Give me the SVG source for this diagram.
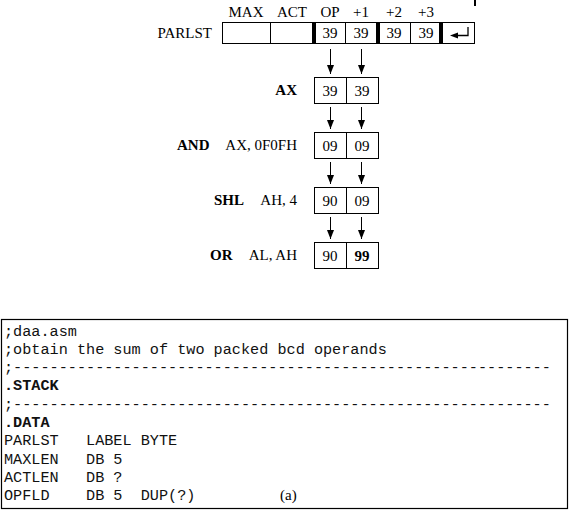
<svg xmlns="http://www.w3.org/2000/svg" width="570" height="511" viewBox="0 0 570 511">
<style>
.lbl{font-family:"Liberation Serif","Times New Roman",serif;font-size:15px;fill:#000}
.b{font-weight:bold}
.num{font-family:"Liberation Serif","Times New Roman",serif;font-size:15px;fill:#000;text-anchor:middle}
.cell{fill:#fff;stroke:#000;stroke-width:1}
.thick{fill:#000}
.arr{stroke:#000;stroke-width:1;fill:none;marker-end:url(#ah)}
.code{font-family:"Liberation Mono","Courier New",monospace;font-size:15.2px;fill:#111;white-space:pre}
</style>
<defs>
<marker id="ah" markerUnits="userSpaceOnUse" markerWidth="10" markerHeight="8" refX="9" refY="3.5" orient="auto">
<path d="M0,0 L9,3.5 L0,7 z" fill="#000"/>
</marker>
</defs>
<rect width="570" height="511" fill="#fff"/>
<rect x="474" y="0" width="2" height="6" fill="#000"/>

<g id="parlst">
<text class="lbl" x="212" y="38" text-anchor="end">PARLST</text>
<text class="lbl" x="246" y="17" text-anchor="middle">MAX</text>
<text class="lbl" x="292" y="17" text-anchor="middle">ACT</text>
<text class="lbl" x="330" y="17" text-anchor="middle">OP</text>
<text class="lbl" x="361" y="17" text-anchor="middle">+1</text>
<text class="lbl" x="394" y="17" text-anchor="middle">+2</text>
<text class="lbl" x="426" y="17" text-anchor="middle">+3</text>
<rect class="cell" x="222.5" y="22.5" width="252" height="21"/>
<line x1="270.5" y1="22.5" x2="270.5" y2="43.5" stroke="#000"/>
<line x1="345.5" y1="22.5" x2="345.5" y2="43.5" stroke="#000"/>
<line x1="410.5" y1="22.5" x2="410.5" y2="43.5" stroke="#000"/>
<rect class="thick" x="312" y="22" width="4" height="22"/>
<rect class="thick" x="376" y="22" width="4" height="22"/>
<rect class="thick" x="439" y="22" width="4" height="22"/>
<text class="num" x="330" y="38">39</text>
<text class="num" x="361" y="38">39</text>
<text class="num" x="394" y="38">39</text>
<text class="num" x="426" y="38">39</text>
<path d="M468,27 L468,35.5 L456,35.5" stroke="#000" stroke-width="1.3" fill="none"/>
<path d="M450,35.5 L458,32.5 L458,38.5 z" fill="#000"/>
</g>

<g id="ax">
<text class="lbl b" x="297" y="95" text-anchor="end">AX</text>
<rect class="cell" x="314.5" y="77.5" width="64" height="26"/>
<line x1="346.5" y1="77.5" x2="346.5" y2="103.5" stroke="#000"/>
<text class="num" x="330" y="96">39</text>
<text class="num" x="362" y="96">39</text>
</g>

<g id="and">
<text class="lbl b" x="177" y="150">AND</text>
<text class="lbl" x="297" y="150" text-anchor="end">AX, 0F0FH</text>
<rect class="cell" x="314.5" y="132.5" width="64" height="26"/>
<line x1="346.5" y1="132.5" x2="346.5" y2="158.5" stroke="#000"/>
<text class="num" x="330" y="151">09</text>
<text class="num" x="362" y="151">09</text>
</g>

<g id="shl">
<text class="lbl b" x="214" y="205">SHL</text>
<text class="lbl" x="297" y="205" text-anchor="end">AH, 4</text>
<rect class="cell" x="314.5" y="187.5" width="64" height="26"/>
<line x1="346.5" y1="187.5" x2="346.5" y2="213.5" stroke="#000"/>
<text class="num" x="330" y="206">90</text>
<text class="num" x="362" y="206">09</text>
</g>

<g id="or">
<text class="lbl b" x="210" y="260">OR</text>
<text class="lbl" x="297" y="260" text-anchor="end">AL, AH</text>
<rect class="cell" x="314.5" y="242.5" width="64" height="26"/>
<line x1="346.5" y1="242.5" x2="346.5" y2="268.5" stroke="#000"/>
<text class="num" x="330" y="261">90</text>
<text class="num b" x="362" y="261">99</text>
</g>

<g id="connectors">
<line class="arr" x1="330.5" y1="49" x2="330.5" y2="74"/>
<line class="arr" x1="361.5" y1="49" x2="361.5" y2="74"/>
<line class="arr" x1="330.5" y1="107" x2="330.5" y2="129"/>
<line class="arr" x1="361.5" y1="107" x2="361.5" y2="129"/>
<line class="arr" x1="330.5" y1="162" x2="330.5" y2="184"/>
<line class="arr" x1="361.5" y1="162" x2="361.5" y2="184"/>
<line class="arr" x1="330.5" y1="217" x2="330.5" y2="239"/>
<line class="arr" x1="361.5" y1="217" x2="361.5" y2="239"/>
</g>

<g id="code">
<rect x="1.5" y="319.5" width="566" height="189" fill="none" stroke="#000" stroke-width="1.2"/>
<text class="code" xml:space="preserve" x="4" y="335.5">;daa.asm</text>
<text class="code" xml:space="preserve" x="4" y="353.8">;obtain the sum of two packed bcd operands</text>
<text class="code" xml:space="preserve" x="4" y="372.1">;-----------------------------------------------------------</text>
<text class="code b" xml:space="preserve" x="4" y="390.4">.STACK</text>
<text class="code" xml:space="preserve" x="4" y="408.7">;-----------------------------------------------------------</text>
<text class="code b" xml:space="preserve" x="4" y="427">.DATA</text>
<text class="code" xml:space="preserve" x="4" y="445.3">PARLST   LABEL BYTE</text>
<text class="code" xml:space="preserve" x="4" y="463.6">MAXLEN   DB 5</text>
<text class="code" xml:space="preserve" x="4" y="481.9">ACTLEN   DB ?</text>
<text class="code" xml:space="preserve" x="4" y="500.2">OPFLD    DB 5  DUP(?)</text>
<text class="lbl" x="280" y="500">(a)</text>
</g>
</svg>
